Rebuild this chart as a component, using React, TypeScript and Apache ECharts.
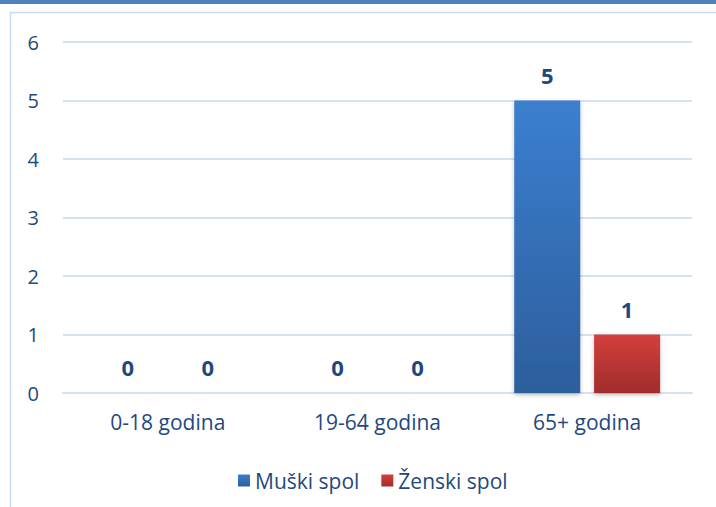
import React, { useEffect, useRef } from "react";
import * as echarts from "echarts";

const categories = ["0-18 godina", "19-64 godina", "65+ godina"];
const muski = [0, 0, 5];
const zenski = [0, 0, 1];
const seriesNames = ["Muški spol", "Ženski spol"];

const FONT = "'Open Sans', sans-serif";
const TXT = "#1f497d";

export default function App() {
  const ref = useRef<HTMLDivElement>(null);
  useEffect(() => {
    document.body.style.margin = "0";
    const chart = echarts.init(ref.current!, null, { renderer: "svg" });
    const label = {
      show: true,
      position: "top" as const,
      distance: 15,
      color: TXT,
      fontFamily: FONT,
      fontWeight: "bold" as const,
      fontSize: 22,
    };
    chart.setOption({
      animation: false,
      backgroundColor: "#ffffff",
      textStyle: { fontFamily: FONT },
      graphic: [
        { type: "rect", left: 0, top: 0, shape: { width: 716, height: 4 }, style: { fill: "#4f81bd" } },
        {
          type: "rect",
          x: 10.5,
          y: 12.5,
          shape: { width: 720, height: 520 },
          style: { fill: "none", stroke: "#c9dbf0", lineWidth: 1.5 },
          silent: true,
        },
      ],
      grid: { left: 63, right: 24, top: 42, bottom: 114, containLabel: false },
      legend: {
        data: seriesNames,
        left: 233,
        top: 465,
        itemWidth: 12,
        itemHeight: 12,
        itemGap: 22,
        icon: "rect",
        textStyle: { color: TXT, fontSize: 21, fontFamily: FONT, padding: [0, 0, 0, 0] },
      },
      xAxis: {
        type: "category",
        data: categories,
        axisLine: { show: true, lineStyle: { color: "#d5e2f2", width: 2 } },
        axisTick: { show: false },
        axisLabel: { color: TXT, fontSize: 21, fontFamily: FONT, margin: 18 },
      },
      yAxis: {
        type: "value",
        min: 0,
        max: 6,
        interval: 1,
        axisLine: { show: false },
        axisTick: { show: false },
        splitLine: { lineStyle: { color: "#d5e2f2", width: 2 } },
        axisLabel: { color: TXT, fontSize: 20, fontFamily: FONT, margin: 24 },
      },
      series: [
        {
          name: seriesNames[0],
          type: "bar",
          data: muski,
          barWidth: 66,
          barGap: "21%",
          label,
          itemStyle: {
            color: new echarts.graphic.LinearGradient(0, 0, 0, 1, [
              { offset: 0, color: "#3b7fd0" },
              { offset: 1, color: "#2d5e9c" },
            ]),
            shadowColor: "rgba(0,0,0,0.25)",
            shadowBlur: 4,
            shadowOffsetY: 2,
          },
        },
        {
          name: seriesNames[1],
          type: "bar",
          data: zenski,
          barWidth: 66,
          label,
          itemStyle: {
            color: new echarts.graphic.LinearGradient(0, 0, 0, 1, [
              { offset: 0, color: "#d2403b" },
              { offset: 1, color: "#a12c2c" },
            ]),
            shadowColor: "rgba(0,0,0,0.25)",
            shadowBlur: 4,
            shadowOffsetY: 2,
          },
        },
      ],
    });
    return () => chart.dispose();
  }, []);
  return (
    <div
      ref={ref}
      style={{ position: "fixed", left: 0, top: 0, width: 716, height: 507 }}
    />
  );
}
